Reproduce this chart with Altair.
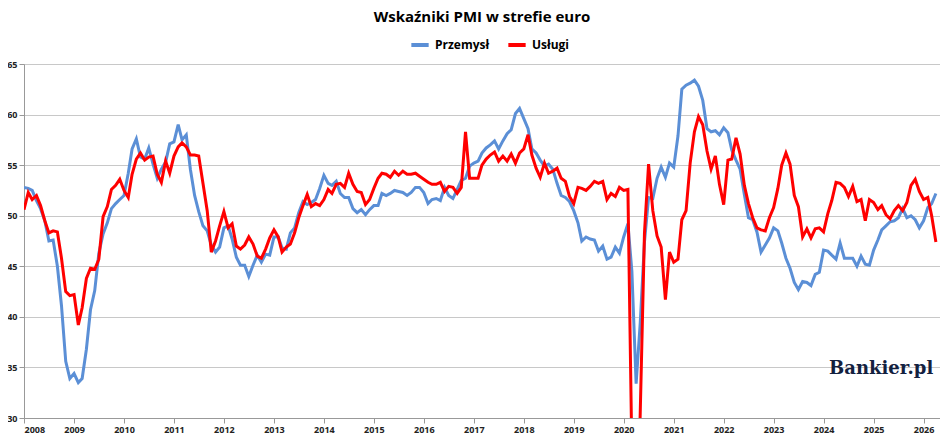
import altair as alt
import pandas as pd

# Monthly PMI readings, Jan 2008 - Apr 2026
przemysl = [
    52.8, 52.7, 52.5, 51.5, 50.7, 49.5, 47.5, 47.6, 45.0, 41.1, 35.6, 33.9,  # 2008
    34.4, 33.5, 33.9, 36.8, 40.7, 42.6, 46.3, 48.2, 49.3, 50.7, 51.2, 51.6,  # 2009
    52.0, 54.2, 56.6, 57.6, 55.8, 55.6, 56.7, 55.1, 53.7, 54.6, 55.3, 57.1,  # 2010
    57.3, 59.0, 57.5, 58.0, 54.6, 52.0, 50.4, 49.0, 48.5, 47.1, 46.4, 46.9,  # 2011
    48.8, 49.0, 47.7, 45.9, 45.1, 45.1, 44.0, 45.1, 46.1, 45.4, 46.2, 46.1,  # 2012
    47.9, 47.9, 46.8, 46.7, 48.3, 48.8, 50.3, 51.4, 51.1, 51.3, 51.6, 52.7,  # 2013
    54.0, 53.2, 53.0, 53.4, 52.2, 51.8, 51.8, 50.7, 50.3, 50.6, 50.1, 50.6,  # 2014
    51.0, 51.0, 52.2, 52.0, 52.2, 52.5, 52.4, 52.3, 52.0, 52.3, 52.8, 52.8,  # 2015
    52.3, 51.2, 51.6, 51.7, 51.5, 52.8, 52.0, 51.7, 52.6, 53.5, 53.7, 54.9,  # 2016
    55.2, 55.4, 56.2, 56.7, 57.0, 57.4, 56.6, 57.4, 58.1, 58.5, 60.1, 60.6,  # 2017
    59.6, 58.6, 56.6, 56.2, 55.5, 54.9, 55.1, 54.6, 53.2, 52.0, 51.8, 51.4,  # 2018
    50.5, 49.3, 47.5, 47.9, 47.7, 47.6, 46.5, 47.0, 45.7, 45.9, 46.9, 46.3,  # 2019
    47.9, 49.2, 44.5, 33.4, 39.4, 47.4, 51.8, 51.7, 53.7, 54.8, 53.8, 55.2,  # 2020
    54.8, 57.9, 62.5, 62.9, 63.1, 63.4, 62.8, 61.4, 58.6, 58.3, 58.4, 58.0,  # 2021
    58.7, 58.2, 56.5, 55.5, 54.6, 52.1, 49.8, 49.6, 48.4, 46.4, 47.1, 47.8,  # 2022
    48.8, 48.5, 47.3, 45.8, 44.8, 43.4, 42.7, 43.5, 43.4, 43.1, 44.2, 44.4,  # 2023
    46.6, 46.5, 46.1, 45.7, 47.3, 45.8, 45.8, 45.8, 45.0, 46.0, 45.2, 45.1,  # 2024
    46.6, 47.6, 48.6, 49.0, 49.4, 49.5, 49.8, 50.7, 49.8, 50.0, 49.6, 48.8,  # 2025
    49.5, 50.8, 51.2, 52.2,                                                  # 2026
]
uslugi = [
    50.6, 52.3, 51.6, 52.0, 51.0, 49.5, 48.3, 48.5, 48.4, 45.8, 42.5, 42.1,  # 2008
    42.2, 39.2, 40.9, 43.8, 44.8, 44.7, 45.7, 49.9, 50.9, 52.6, 53.0, 53.6,  # 2009
    52.5, 51.8, 54.1, 55.6, 56.2, 55.5, 55.8, 55.9, 54.1, 53.3, 55.4, 54.2,  # 2010
    55.9, 56.8, 57.2, 56.8, 56.0, 56.0, 55.9, 53.2, 50.5, 46.4, 47.5, 49.0,  # 2011
    50.4, 48.8, 49.2, 47.0, 46.7, 47.1, 47.9, 47.2, 46.0, 45.8, 46.7, 47.8,  # 2012
    48.6, 47.9, 46.4, 46.9, 47.2, 48.3, 49.8, 51.0, 52.1, 50.9, 51.2, 51.0,  # 2013
    51.6, 52.6, 52.2, 53.1, 53.2, 52.8, 54.2, 53.1, 52.4, 52.3, 51.1, 51.6,  # 2014
    52.7, 53.7, 54.2, 54.1, 53.8, 54.4, 54.0, 54.4, 54.1, 54.1, 54.2, 53.9,  # 2015
    53.6, 53.3, 53.1, 53.1, 53.3, 52.4, 52.9, 52.8, 52.2, 52.8, 58.3, 53.7,  # 2016
    53.7, 53.7, 55.0, 55.6, 56.0, 56.3, 55.4, 55.9, 55.4, 56.1, 55.2, 56.2,  # 2017
    56.6, 58.0, 56.0, 54.7, 53.8, 55.2, 54.2, 54.4, 54.7, 53.7, 53.4, 51.9,  # 2018
    51.2, 52.8, 52.7, 52.5, 52.9, 53.4, 53.2, 53.4, 51.6, 52.2, 51.9, 52.8,  # 2019
    52.5, 52.6, 26.4, 12.0, 30.5, 48.3, 55.1, 50.5, 48.0, 46.9, 41.7, 46.4,  # 2020
    45.4, 45.7, 49.6, 50.5, 55.2, 58.3, 59.8, 59.0, 56.4, 54.6, 55.9, 53.1,  # 2021
    51.1, 55.5, 55.6, 57.7, 56.1, 53.0, 51.2, 49.8, 48.8, 48.6, 48.5, 49.8,  # 2022
    50.8, 52.7, 55.0, 56.2, 55.1, 52.0, 50.9, 47.9, 48.7, 47.8, 48.7, 48.8,  # 2023
    48.4, 50.2, 51.5, 53.3, 53.2, 52.8, 51.9, 52.9, 51.4, 51.6, 49.5, 51.6,  # 2024
    51.3, 50.6, 51.0, 50.1, 49.7, 50.5, 51.0, 50.5, 51.3, 53.0, 53.6, 52.4,  # 2025
    51.6, 51.8, 50.0, 47.4,                                                  # 2026
]

dates = pd.date_range("2008-01-01", periods=len(przemysl), freq="MS")
df = pd.concat([
    pd.DataFrame({"data": dates, "wartosc": przemysl, "seria": "Przemysł"}),
    pd.DataFrame({"data": dates, "wartosc": uslugi, "seria": "Usługi"}),
])

lines = alt.Chart(df).mark_line(strokeWidth=3, clip=True).encode(
    x=alt.X("data:T", title=None,
            scale=alt.Scale(domain=["2008-01-01", "2026-05-01"]),
            axis=alt.Axis(format="%Y", tickCount={"interval": "year", "step": 1},
                          grid=False, labelFontWeight="bold", labelFontSize=9,
                          domainColor="#999", tickColor="#999", labelColor="#222")),
    y=alt.Y("wartosc:Q", title=None,
            scale=alt.Scale(domain=[30, 65], nice=False, zero=False),
            axis=alt.Axis(values=[30, 35, 40, 45, 50, 55, 60, 65], gridColor="#c8c8c8",
                          labelFontWeight="bold", labelFontSize=9, domainColor="#999",
                          tickColor="#999", labelColor="#222")),
    color=alt.Color("seria:N", title=None,
                    scale=alt.Scale(domain=["Przemysł", "Usługi"], range=["#5b8fd6", "#ff0000"]),
                    legend=alt.Legend(orient="none", legendX=385, legendY=-30, direction="horizontal",
                                      symbolType="stroke", symbolStrokeWidth=4, symbolSize=300,
                                      labelFontWeight="bold", labelFontSize=12, columnPadding=10)),
)

logo = alt.Chart(pd.DataFrame({"t": ["Bankier.pl"]})).mark_text(
    font="DejaVu Serif", fontSize=18, fontWeight="bold", color="#13213f", align="left"
).encode(x=alt.value(805), y=alt.value(305), text="t:N")

title = alt.Chart(pd.DataFrame({"t": ["Wskaźniki PMI w strefie euro"]})).mark_text(
    fontSize=15, fontWeight="bold", color="#000", align="center"
).encode(x=alt.value(458), y=alt.value(-47), text="t:N")

chart = (lines + logo + title).properties(
    width=916, height=354,
    autosize=alt.AutoSizeParams(type="none"),
    padding={"left": 16, "top": 56, "right": 0, "bottom": 18},
).configure_view(stroke=None).configure(font="Open Sans")

chart.save("out.html", embed_options={"renderer": "svg", "actions": False})
